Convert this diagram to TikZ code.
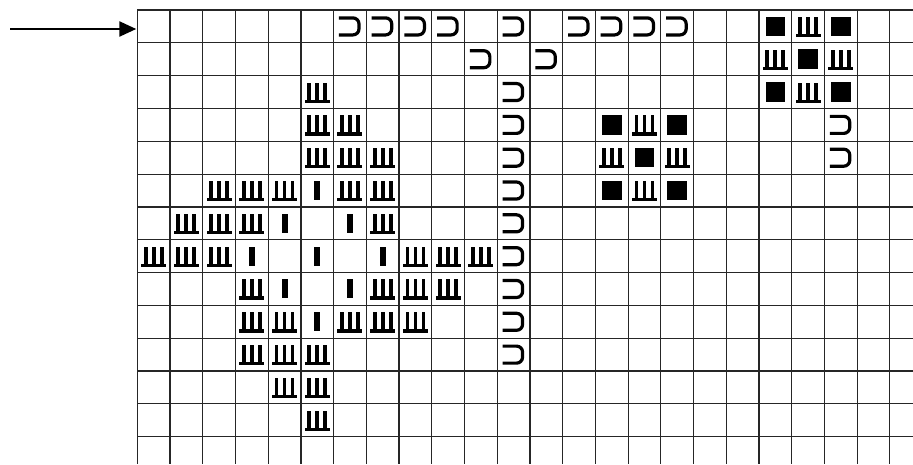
\documentclass[tikz,border=0pt]{standalone}
\usetikzlibrary{arrows.meta}
% chart cell size and origin (in pt, y runs downwards)
\newcommand{\cw}{32.72}
\newcommand{\chh}{32.82}
\newcommand{\gx}{137.3}
\newcommand{\gy}{10}
\tikzset{
	gridline/.style={line width=1.2pt, black!85},
	arrowline/.style={line width=2.4pt, -{Triangle[length=17pt,width=15pt]}},
	supsym/.pic={\draw[line width=3.2pt, rounded corners=6pt] (-11,-8.5) -- (9,-8.5) -- (9,8.5) -- (-11,8.5);},
	shasym/.pic={
		\fill (-12.5,7.5) rectangle (12.5,10.8);
		\foreach \u in {-8,0,8} \fill (\u-1.9,-9.5) rectangle (\u+1.9,9);},
	blksym/.pic={\fill (-9.8,-9.8) rectangle (9.8,9.8);},
	barsym/.pic={\fill (-3,-9.5) rectangle (3,9.5);}
}

\begin{document}
\begin{tikzpicture}[x=1pt, y=-1pt]
	\useasboundingbox (0,0) rectangle (913,464);
	% grid
	\foreach \k in {0,...,23}
		\draw[gridline] (\gx+\k*\cw,\gy) -- (\gx+\k*\cw,464);
	\foreach \k in {0,...,13}
		\draw[gridline] (\gx,\gy+\k*\chh) -- (913,\gy+\k*\chh);
	% symbols, col/row
	\foreach \c/\r in {7/1,8/1,9/1,10/1,12/1,14/1,15/1,16/1,17/1,11/2,13/2,
			12/3,12/4,12/5,12/6,12/7,12/8,12/9,12/10,12/11,22/4,22/5}
		\pic at (\gx+\c*\cw-0.5*\cw, \gy+\r*\chh-0.5*\chh) {supsym};
	\foreach \c/\r in {20/1,22/1,21/2,20/3,22/3,15/4,17/4,16/5,15/6,17/6}
		\pic at (\gx+\c*\cw-0.5*\cw, \gy+\r*\chh-0.5*\chh) {blksym};
	\foreach \c/\r in {21/1,20/2,22/2,21/3,16/4,15/5,17/5,16/6,
			6/3,6/4,7/4,6/5,7/5,8/5,3/6,4/6,5/6,7/6,8/6,2/7,3/7,4/7,8/7,
			1/8,2/8,3/8,9/8,10/8,11/8,4/9,8/9,9/9,10/9,4/10,5/10,7/10,8/10,9/10,
			4/11,5/11,6/11,5/12,6/12,6/13}
		\pic at (\gx+\c*\cw-0.5*\cw, \gy+\r*\chh-0.5*\chh) {shasym};
	\foreach \c/\r in {6/6,5/7,7/7,4/8,6/8,8/8,5/9,7/9,6/10}
		\pic at (\gx+\c*\cw-0.5*\cw, \gy+\r*\chh-0.5*\chh) {barsym};
	% entry arrow
	\coordinate (tail) at (10,29);
	\coordinate (entry) at (\gx-1,29);
	\draw[arrowline] (tail) -- (entry);
\end{tikzpicture}
\end{document}
